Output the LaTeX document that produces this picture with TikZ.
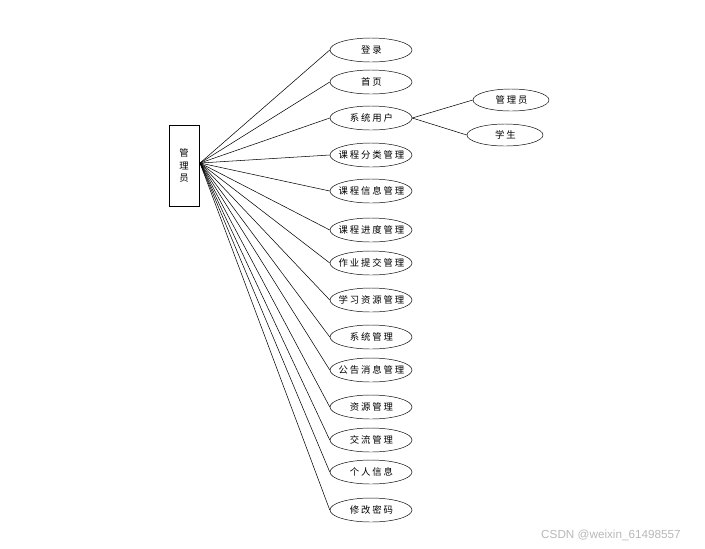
\documentclass[tikz,border=0pt]{standalone}
\usepackage{fontspec}
\setmainfont[LetterSpace=20]{Noto Sans CJK SC}
\newfontfamily\wmfont{Liberation Sans}
\usetikzlibrary{shapes.geometric}
\newcommand{\fixw}[1]{\makebox[0pt]{\hspace{0.8pt}#1}}
\tikzset{
  func/.style={draw,ellipse,minimum width=2.46cm,minimum height=0.72cm,inner sep=0pt,font=\fontsize{8}{9}\selectfont},
  role/.style={draw,ellipse,minimum width=2.28cm,minimum height=0.66cm,inner sep=0pt,font=\fontsize{8}{9}\selectfont},
  link/.style={line width=0.45pt}
}
\begin{document}
\begin{tikzpicture}[x=0.03cm,y=0.03cm]
            \useasboundingbox (0,0) rectangle (705,-548);
            \node[draw,line width=0.5pt,minimum width=0.9cm,minimum height=2.43cm,align=center,font=\fontsize{8}{10.6}\selectfont] (admin) at (184,-165.5) {管\\理\\员};
            \coordinate (hub) at (200,-163);
            \node[func] (login) at (371,-50) {\fixw{登录}};
            \node[func] (home) at (371,-82) {\fixw{首页}};
            \node[func] (users) at (371,-118) {\fixw{系统用户}};
            \node[func] (cat) at (371,-155) {\fixw{课程分类管理}};
            \node[func] (info) at (371,-191) {\fixw{课程信息管理}};
            \node[func] (prog) at (371,-230) {\fixw{课程进度管理}};
            \node[func] (hw) at (371,-263) {\fixw{作业提交管理}};
            \node[func] (study) at (371,-300) {\fixw{学习资源管理}};
            \node[func] (sys) at (371,-337) {\fixw{系统管理}};
            \node[func] (notice) at (371,-370) {\fixw{公告消息管理}};
            \node[func] (res) at (371,-407) {\fixw{资源管理}};
            \node[func] (talk) at (371,-440) {\fixw{交流管理}};
            \node[func] (me) at (371,-472) {\fixw{个人信息}};
            \node[func] (pwd) at (371,-510) {\fixw{修改密码}};
            \node[role] (uadmin) at (511,-100) {\fixw{管理员}};
            \node[role] (ustu) at (505,-135) {\fixw{学生}};
            \foreach \f in {login,home,users,cat,info,prog,hw,study,sys,notice,res,talk,me,pwd}
                \draw[link] (hub) -- (\f.west);
            \draw[link] (users.east) -- (uadmin.west);
            \draw[link] (users.east) -- (ustu.west);
            \node[font=\wmfont\fontsize{10}{11}\selectfont,text=black!28] (mark) at (611,-535) {CSDN @weixin\_61498557};
        \end{tikzpicture}
\end{document}
